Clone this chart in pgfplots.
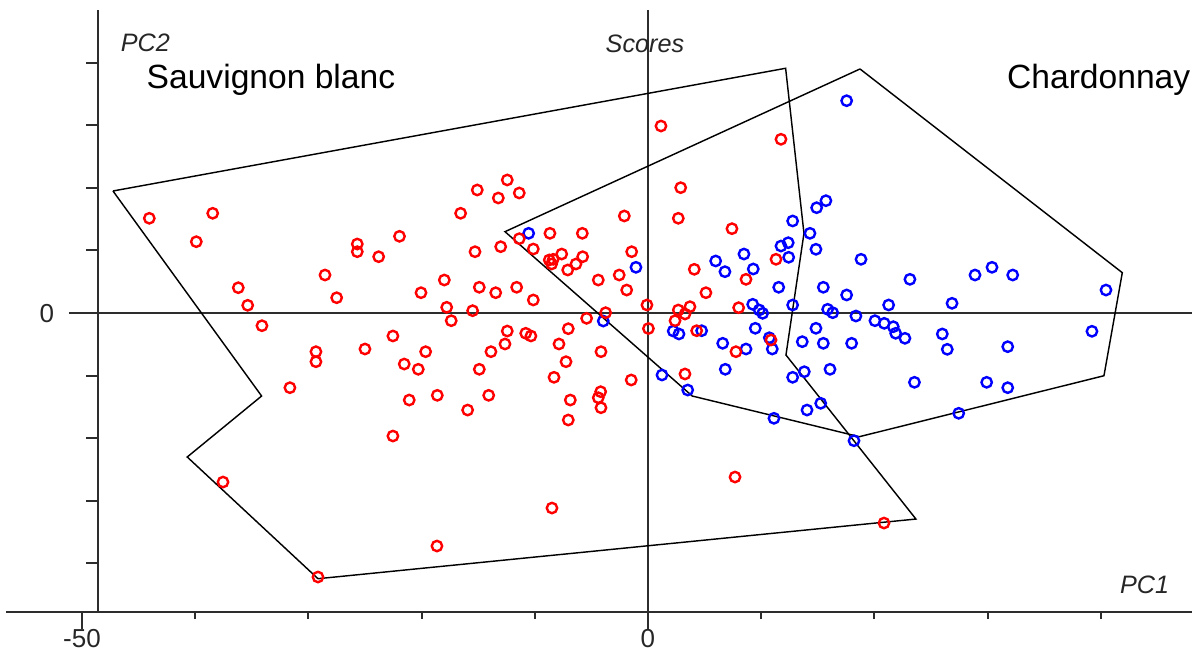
\documentclass[border=0pt]{standalone}
\usepackage{fontspec}
\setmainfont{Liberation Sans}
\usepackage{pgfplots}
\pgfplotsset{compat=1.18}

\definecolor{scoreRed}{RGB}{255,0,0}
\definecolor{scoreBlue}{RGB}{0,0,255}
\definecolor{axisGrey}{RGB}{45,45,45}

\tikzset{
  frameline/.style={axisGrey, line width=0.55pt},
  hull/.style={black, line width=0.36pt, line join=miter},
}

\begin{document}
\begin{tikzpicture}
\begin{axis}[
  scale only axis,
  width=296.5pt, height=150.5pt,
  xmin=-56.71, xmax=48.06, ymin=-47.76, ymax=48.40,
  axis x line=bottom, axis y line=none,
  axis line style={-, line width=0.55pt, color=axisGrey},
  xtick={-50,0}, minor xtick={-40,-30,-20,-10,10,20,30,40},
  ytick=\empty,
  tick align=outside,
  major tick length=4.25pt, minor tick length=1.75pt,
  every tick/.style={line width=0.5pt, color=axisGrey},
  xticklabel style={font=\fontsize{6.5}{7}\selectfont, color=black!85, inner sep=0pt},
  /pgf/number format/assume math mode=true,
  clip=false,
]
% page corners
\coordinate (pageTL) at (axis cs:-57.24,50.0);
\coordinate (pageBR) at (axis cs:48.59,-54.79);

% PC2 axis on the left, centre lines through the origin
\draw[frameline] (axis cs:-48.59,48.40) -- (axis cs:-48.59,-47.76);
\draw[frameline] (axis cs:0,48.40) -- (axis cs:0,-47.76);
\draw[frameline] (axis cs:-51.15,0) -- (axis cs:48.06,0);
\pgfplotsinvokeforeach{-40,-30,-20,-10,10,20,30,40}{
  \draw[axisGrey, line width=0.5pt] (axis cs:-48.59,#1) -- (axis cs:-49.65,#1);
}
\node[anchor=base, inner sep=0pt, font=\fontsize{6.5}{7}\selectfont, text=black!85]
  at (axis cs:-53.09,-1.44) {0};

% Chardonnay scores
\addplot[only marks, mark=o, mark size=1.3pt, scoreBlue,
  mark options={line width=0.6pt}] table {
x y
-10.54 12.73
-1.06 7.30
-3.95 -1.28
15.72 17.94
14.90 16.82
12.78 14.70
14.31 12.73
14.84 10.18
11.75 10.70
12.39 11.23
12.43 8.90
8.48 9.42
5.98 8.31
6.80 6.60
9.30 7.03
18.82 8.58
23.14 5.38
11.55 4.11
15.49 4.11
17.55 2.88
9.25 1.39
9.83 0.48
10.13 -0.05
12.78 1.28
15.87 0.59
16.32 0.05
18.37 -0.48
21.26 1.28
20.05 -1.23
20.87 -1.65
21.67 -2.19
21.88 -3.24
22.70 -4.04
14.84 -2.44
9.48 -2.44
2.23 -2.88
2.74 -3.35
4.74 -2.83
6.60 -4.84
8.66 -5.75
10.72 -3.95
10.98 -5.75
13.63 -4.58
15.49 -4.84
17.99 -4.84
6.83 -8.99
1.24 -9.90
3.51 -12.30
12.78 -10.27
13.81 -9.38
16.08 -8.99
23.54 -11.07
15.26 -14.42
14.05 -15.50
11.13 -16.82
18.20 -20.40
28.89 6.07
30.39 7.30
32.22 6.07
40.46 3.67
26.86 1.55
26.00 -3.35
26.44 -5.80
31.78 -5.38
39.22 -2.92
29.92 -11.07
31.78 -11.93
27.45 -16.02
17.55 33.91
};

% Sauvignon blanc scores
\addplot[only marks, mark=o, mark size=1.3pt, scoreRed,
  mark options={line width=0.6pt}] table {
x y
-44.05 15.13
-38.45 15.93
-39.90 11.39
-25.68 11.02
-25.68 9.79
-23.79 8.99
-21.95 12.25
-28.53 6.07
-27.50 2.44
-36.19 4.04
-35.36 1.23
-34.10 -2.03
-22.53 -3.67
-25.00 -5.75
-29.33 -6.18
-29.33 -7.78
-31.63 -11.93
-22.53 -19.65
-12.43 21.25
-15.08 19.65
-13.22 18.37
-11.37 19.17
-16.55 15.93
-2.09 15.50
-8.66 12.73
-5.80 12.73
-15.28 9.79
-13.01 10.59
-11.37 11.87
-10.13 10.22
-1.44 9.79
-8.72 8.47
-8.37 8.58
-7.62 9.42
-8.51 7.83
-7.09 6.87
-6.36 7.83
-5.77 8.99
-4.39 5.27
-2.54 6.07
-1.88 3.67
-17.99 5.27
-20.05 3.24
-14.90 4.11
-13.45 3.24
-11.60 4.11
-10.13 2.08
-17.78 0.91
-17.38 -1.23
-15.49 0.37
-5.42 -0.85
-3.74 0.05
-0.09 1.28
0.04 -2.48
-12.43 -2.88
-10.80 -3.24
-10.34 -3.67
-12.63 -4.95
-7.04 -2.51
-7.86 -4.95
-19.64 -6.18
-13.87 -6.18
-4.15 -6.18
-21.53 -8.15
-20.29 -8.99
-14.90 -8.99
-7.24 -7.78
-8.30 -10.27
-1.48 -10.70
-21.09 -13.90
-18.61 -13.15
-14.07 -13.15
-15.93 -15.50
-6.86 -13.90
-4.18 -12.57
-4.39 -13.53
-4.15 -15.13
-7.04 -17.09
2.89 20.02
2.68 15.13
7.42 13.47
11.31 8.58
4.09 6.98
8.66 5.38
5.12 3.24
8.01 0.85
3.71 1.01
2.68 0.48
3.27 -0.16
2.39 -1.23
4.30 -2.83
10.87 -4.31
7.77 -6.18
3.27 -9.74
1.15 29.87
11.75 27.75
-37.54 -27.00
-29.15 -42.17
7.69 -26.20
-8.48 -31.15
-18.64 -37.22
20.85 -33.55
};

% group outlines
\addplot[hull] coordinates {
  (-47.26,19.49) (12.16,39.09) (13.78,12.73) (12.19,-6.71)
  (23.67,-32.91) (-29.15,-42.44) (-40.70,-23.00) (-34.13,-13.26)
  (-47.26,19.49)
};
\addplot[hull] coordinates {
  (18.73,38.98) (41.90,6.44) (40.28,-10.02) (18.67,-19.76)
  (3.91,-13.26) (-12.63,12.99) (18.73,38.98)
};

% titles and group names
\node[anchor=base west, inner sep=0pt, font=\fontsize{6.3}{7}\selectfont\itshape, text=black!85]
  at (axis cs:-46.64,41.85) {PC2};
\node[anchor=base, inner sep=0pt, font=\fontsize{6.3}{7}\selectfont\itshape, text=black!85]
  at (axis cs:-0.27,41.69) {Scores};
\node[anchor=base east, inner sep=0pt, font=\fontsize{6.3}{7}\selectfont\itshape, text=black!85]
  at (axis cs:46.11,-44.73) {PC1};
\node[anchor=base west, inner sep=0pt, font=\fontsize{8.4}{10}\selectfont]
  at (axis cs:-44.35,35.94) {Sauvignon blanc};
\node[anchor=base east, inner sep=0pt, font=\fontsize{8.4}{10}\selectfont]
  at (axis cs:47.97,35.94) {Chardonnay};
\end{axis}
\pgfresetboundingbox
\path[use as bounding box] (pageTL) rectangle (pageBR);
\end{tikzpicture}
\end{document}
